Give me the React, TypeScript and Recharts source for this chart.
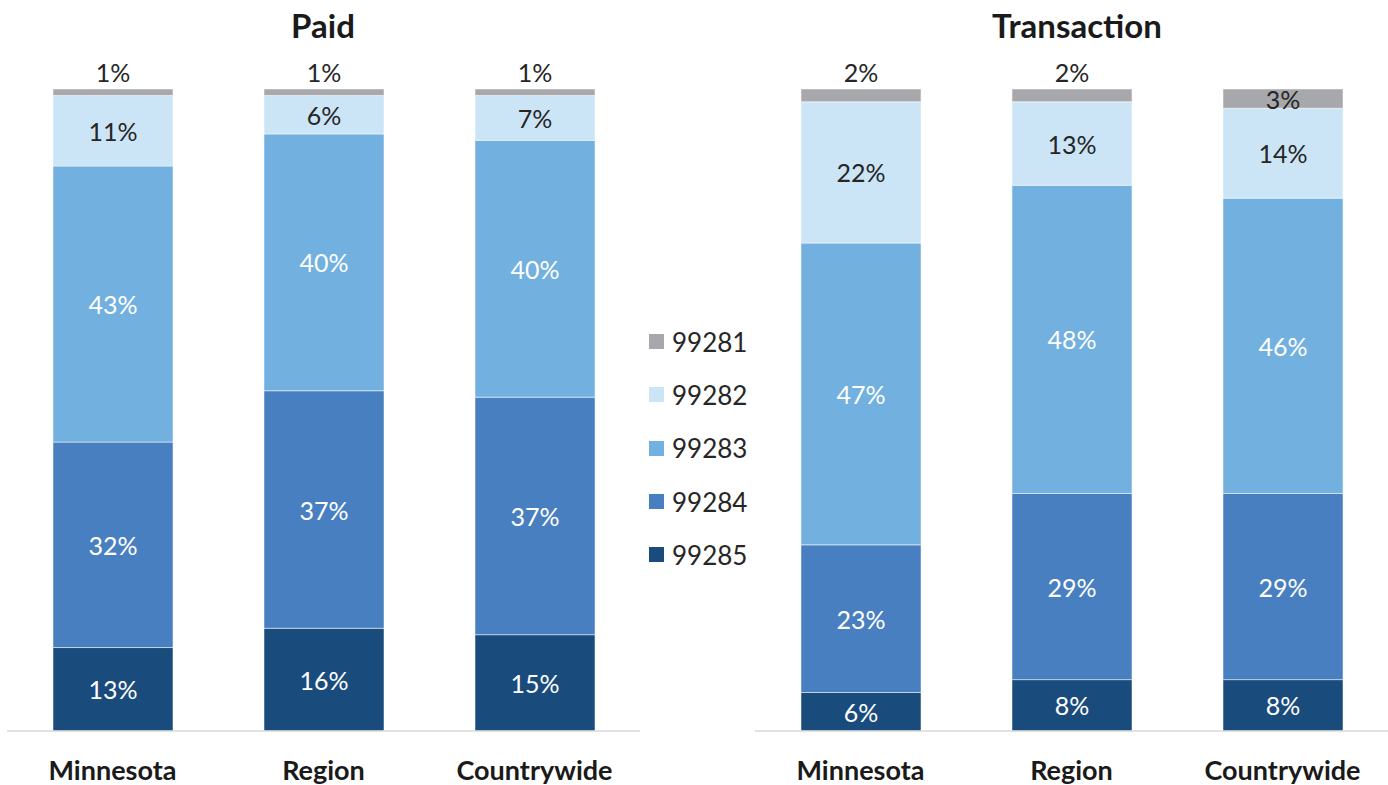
import React from 'react';
import { BarChart, Bar, XAxis, YAxis, LabelList } from 'recharts';

const categories = ['Minnesota', 'Region', 'Countrywide'];
const seriesNames = ['99285', '99284', '99283', '99282', '99281'];
const seriesColors = ['#1A4B7D', '#487FC1', '#72B0DF', '#CCE5F6', '#A7A8AC'];
const labelColors = ['#FFFFFF', '#FFFFFF', '#FFFFFF', '#262626', '#262626'];

// values per series, in category order
const paid99285 = [13, 16, 15];
const paid99284 = [32, 37, 37];
const paid99283 = [43, 40, 40];
const paid99282 = [11, 6, 7];
const paid99281 = [1, 1, 1];

const trans99285 = [6, 8, 8];
const trans99284 = [23, 29, 29];
const trans99283 = [47, 48, 46];
const trans99282 = [22, 13, 14];
const trans99281 = [2, 2, 3];

const paidSeries = [paid99285, paid99284, paid99283, paid99282, paid99281];
const transSeries = [trans99285, trans99284, trans99283, trans99282, trans99281];

const FONT = 'Lato, "Open Sans", sans-serif';

function buildRows(series: number[][]) {
    return categories.map((name, i) => {
        const row: any = { name };
        seriesNames.forEach((s, j) => {
            row[s] = series[j][i];
        });
        return row;
    });
}

const paidData = buildRows(paidSeries);
const transData = buildRows(transSeries);

const makeLabel = (color: string) => (props: any) => {
    const { x, y, width, height, value } = props;
    const above = value <= 2;
    const cx = x + width / 2;
    const cy = above ? y - 17 : y + height / 2;
    return (
        <text
            x={cx}
            y={cy}
            textAnchor="middle"
            dominantBaseline="central"
            fill={above ? '#262626' : color}
            fontSize={25}
            fontFamily={FONT}
        >
            {value}%
        </text>
    );
};

const CategoryTick = (props: any) => {
    const { x, y, payload } = props;
    return (
        <text x={x} y={y + 41} textAnchor="middle" fontSize={27} fontWeight={700} fill="#1a1a1a" fontFamily={FONT}>
            {payload.value}
        </text>
    );
};

function StackPanel({ data, width, left, right }: { data: any[]; width: number; left: number; right: number }) {
    return (
        <BarChart width={width} height={785} data={data} margin={{ top: 89, right, bottom: 0, left }} barSize={120}>
            <XAxis
                dataKey="name"
                height={54}
                axisLine={{ stroke: '#D9D9D9', strokeWidth: 1.5 }}
                tickLine={false}
                tick={<CategoryTick />}
                interval={0}
            />
            <YAxis hide domain={[0, 100]} />
            {seriesNames.map((s, j) => (
                <Bar key={s} dataKey={s} stackId="a" fill={seriesColors[j]} stroke="#FFFFFF" strokeWidth={0.5} isAnimationActive={false}>
                    <LabelList dataKey={s} content={makeLabel(labelColors[j])} />
                </Bar>
            ))}
        </BarChart>
    );
}

export default function App() {
    const legendOrder = [...seriesNames].reverse();
    const legendColors = [...seriesColors].reverse();
    return (
        <div style={{ position: 'absolute', left: 0, top: 0, width: 1388, height: 785, background: '#fff', fontFamily: FONT, overflow: 'hidden' }}>
            <div style={{ position: 'absolute', left: 0, top: 0 }}>
                <StackPanel data={paidData} width={650} left={7} right={10} />
            </div>
            <div style={{ position: 'absolute', left: 755, top: 0 }}>
                <StackPanel data={transData} width={633} left={0} right={0} />
            </div>
            <div style={{ position: 'absolute', left: 223, width: 200, top: 5, textAlign: 'center', fontSize: 33, fontWeight: 700, color: '#1a1a1a' }}>
                Paid
            </div>
            <div style={{ position: 'absolute', left: 927, width: 300, top: 5, textAlign: 'center', fontSize: 33, fontWeight: 700, color: '#1a1a1a' }}>
                Transaction
            </div>
            <div style={{ position: 'absolute', left: 649, top: 315 }}>
                {legendOrder.map((s, i) => (
                    <div key={s} style={{ display: 'flex', alignItems: 'center', height: 53.3 }}>
                        <div style={{ width: 15, height: 15, background: legendColors[i], marginRight: 8 }} />
                        <span style={{ fontSize: 26, color: '#262626', lineHeight: '30px' }}>{s}</span>
                    </div>
                ))}
            </div>
        </div>
    );
}
